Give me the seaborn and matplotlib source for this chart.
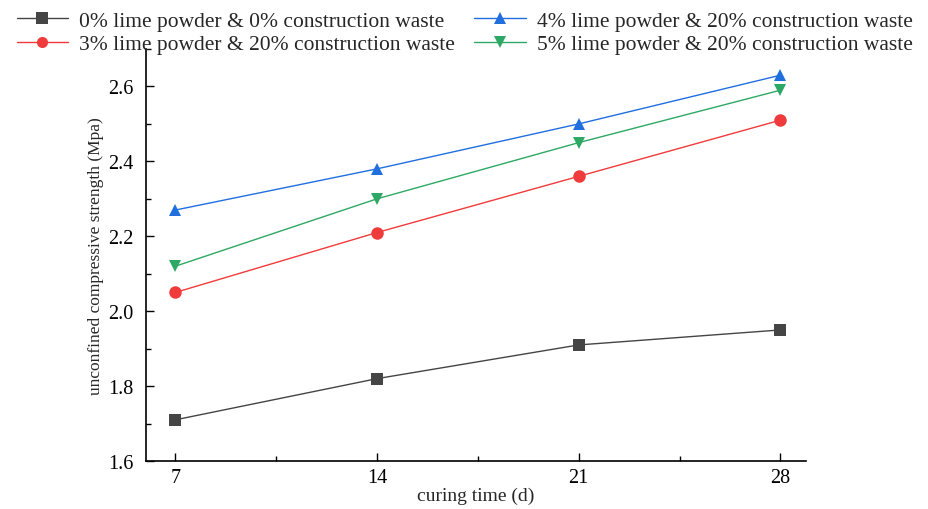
import pandas as pd
import seaborn as sns
import matplotlib
matplotlib.use('Agg')
import matplotlib.pyplot as plt
from matplotlib.ticker import MultipleLocator, FormatStrFormatter

days = [7, 14, 21, 28]
series_names = [
    '0% lime powder & 0% construction waste',
    '3% lime powder & 20% construction waste',
    '4% lime powder & 20% construction waste',
    '5% lime powder & 20% construction waste',
]
lime0_waste0 = [1.71, 1.82, 1.91, 1.95]
lime3_waste20 = [2.05, 2.21, 2.36, 2.51]
lime4_waste20 = [2.27, 2.38, 2.50, 2.63]
lime5_waste20 = [2.12, 2.30, 2.45, 2.59]

COLORS = ['#454545', '#ef3b3b', '#1f6fdf', '#2ea865']
MARKERS = ['s', 'o', '^', 'v']


def main():
    values = [lime0_waste0, lime3_waste20, lime4_waste20, lime5_waste20]
    df = pd.DataFrame([
        (d, v, name)
        for name, vals in zip(series_names, values)
        for d, v in zip(days, vals)
    ], columns=('days', 'strength', 'mix'))

    sns.set_style('ticks')
    plt.rcParams['font.family'] = ['Liberation Serif', 'DejaVu Serif']

    fig = plt.figure(figsize=(9.29, 5.10), dpi=100)
    ax = fig.add_axes([0.157, 0.094, 0.711, 0.808])
    sns.lineplot(data=df, x='days', y='strength', hue='mix',
                 palette=dict(zip(series_names, COLORS)),
                 style='mix', markers=dict(zip(series_names, MARKERS)),
                 dashes=False, linewidth=1, markersize=9,
                 markeredgewidth=0, ax=ax, legend=False)

    ax.set_xlim(5.98, 28.9)
    ax.set_ylim(1.6, 2.7)
    ax.set_xticks(days)
    ax.xaxis.set_minor_locator(MultipleLocator(3.5))
    ax.yaxis.set_major_locator(MultipleLocator(0.2))
    ax.yaxis.set_minor_locator(MultipleLocator(0.1))
    ax.tick_params(which='both', direction='in', width=1, labelsize=14.5,
                   colors='black')
    ax.tick_params(which='major', length=6)
    ax.tick_params(which='minor', length=3.5)
    ax.tick_params(axis='x', pad=5)
    ax.tick_params(axis='y', pad=9)
    ax.yaxis.set_major_formatter(FormatStrFormatter('%.1f'))
    sns.despine(ax=ax)
    for s in ('left', 'bottom'):
        ax.spines[s].set_linewidth(1.2)
        ax.spines[s].set_color('black')

    ax.set_xlabel('curing time (d)', fontsize=14, labelpad=0)
    ax.set_ylabel('unconfined compressive strength (Mpa)', fontsize=12.5,
                  labelpad=3)

    handles = [plt.Line2D([], [], color=c, marker=m, markersize=8,
                          markeredgewidth=0, linewidth=1)
               for c, m in zip(COLORS, MARKERS)]
    fig.legend(handles, series_names, ncol=2, loc='upper center',
               bbox_to_anchor=(0.5, 1.015), frameon=False, fontsize=15.5,
               handlelength=2.4, columnspacing=0.9, labelspacing=0.15,
               handletextpad=0.5)

    fig.savefig('out.png', dpi=100)


if __name__ == '__main__':
    main()
